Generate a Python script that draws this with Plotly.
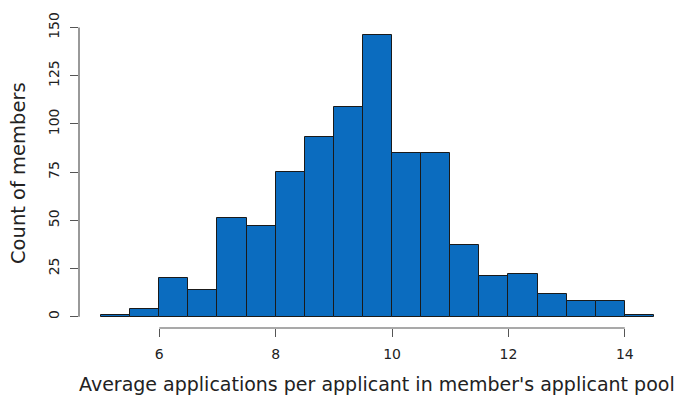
import plotly.graph_objects as go

bin_starts = [5.0, 5.5, 6.0, 6.5, 7.0, 7.5, 8.0, 8.5, 9.0, 9.5, 10.0, 10.5, 11.0, 11.5, 12.0, 12.5, 13.0, 13.5, 14.0]
counts = [1, 4, 20, 14, 51, 47, 75, 93, 109, 146, 85, 85, 37, 21, 22, 12, 8, 8, 1]
bin_width = 0.5
x_ticks = [6, 8, 10, 12, 14]
y_ticks = [0, 25, 50, 75, 100, 125, 150]
x_title = "Average applications per applicant in member's applicant pool"
y_title = "Count of members"

centers = [b + bin_width / 2 for b in bin_starts]

fig = go.Figure(go.Bar(
    x=centers, y=counts, width=bin_width,
    marker=dict(color="#0B6CBF", line=dict(color="#1a1a1a", width=1)),
    hoverinfo="x+y",
))

axis_color = "#555555"
fig.update_layout(
    width=680, height=389,
    margin=dict(l=71, r=12, t=16, b=69, autoexpand=False),
    paper_bgcolor="white", plot_bgcolor="white",
    font=dict(family="DejaVu Sans", color="#222222"),
    bargap=0, showlegend=False,
    xaxis=dict(range=[4.62, 14.88], tickvals=x_ticks, ticks="outside", ticklen=8,
               tickcolor=axis_color, showgrid=False, zeroline=False, showline=False,
               tickfont=dict(size=14), ticklabelstandoff=5, automargin=False),
    yaxis=dict(range=[-5.84, 151.84], tickvals=y_ticks, ticks="outside", ticklen=8,
               tickcolor=axis_color, showgrid=False, zeroline=False, showline=False,
               tickangle=-90, tickfont=dict(size=14), ticklabelstandoff=5, automargin=False),
    shapes=[
        dict(type="line", xref="x", yref="paper", x0=x_ticks[0], x1=x_ticks[-1], y0=0, y1=0,
             line=dict(color=axis_color, width=1.2)),
        dict(type="line", xref="paper", yref="y", x0=0, x1=0, y0=y_ticks[0], y1=y_ticks[-1],
             line=dict(color=axis_color, width=1.2)),
    ],
    annotations=[
        dict(text=x_title, xref="paper", yref="paper", x=0.5, y=0, yshift=-56, xshift=-1,
             showarrow=False, font=dict(size=19), xanchor="center", yanchor="middle"),
        dict(text=y_title, xref="paper", yref="paper", x=0, y=0.5, xshift=-61, yshift=3,
             showarrow=False, font=dict(size=19.5), textangle=-90, xanchor="center", yanchor="middle"),
    ],
)

fig.write_html("out.html")
